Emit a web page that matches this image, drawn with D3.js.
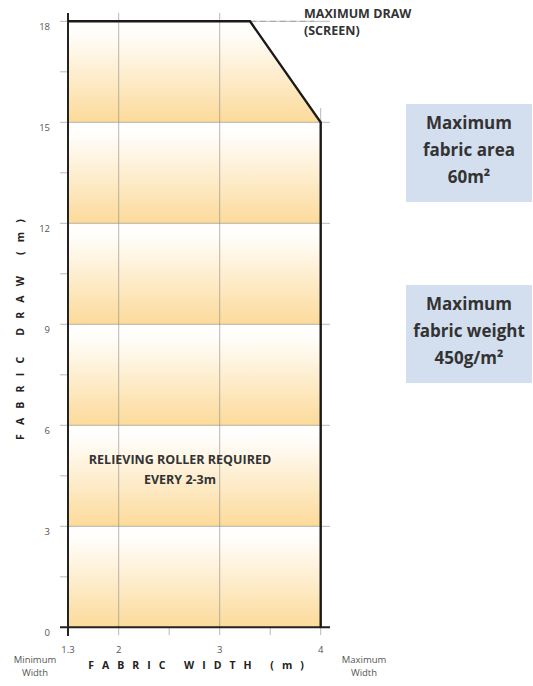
<!DOCTYPE html>
<html>
<head>
<meta charset="utf-8">
<script src="https://cdn.jsdelivr.net/npm/d3@7"></script>
<style>
  body { margin: 0; background: #fff; }
  text { font-family: "Open Sans", "DejaVu Sans", sans-serif; }
</style>
</head>
<body>
<script>
// limits of the fabric envelope (width m, draw m)
const envelope = [
  [1.3, 0], [1.3, 18], [3.3, 18], [4, 15], [4, 0]
];
const yTicks = [0, 3, 6, 9, 12, 15, 18];
const yMinor = [1.5, 4.5, 7.5, 10.5, 13.5, 16.5];
const xTicks = [1.3, 2, 3, 4];
const xMinor = [2.5, 3.5];
const xGrid = [2, 3];
const bands = [[0, 3], [3, 6], [6, 9], [9, 12], [12, 15], [15, 18]];
const boxes = [
  ["Maximum", "fabric area", "60m²"],
  ["Maximum", "fabric weight", "450g/m²"]
];

const W = 533, H = 686;
const svg = d3.select("body").append("svg").attr("width", W).attr("height", H);

// the first step (1.3 -> 2) is drawn shorter than the rest
const x = d3.scaleLinear().domain([1.3, 2, 4]).range([68, 118.7, 320.7]);
const y = d3.scaleLinear().domain([0, 18]).range([627.3, 21.3]);

const defs = svg.append("defs");
const grad = defs.append("linearGradient")
  .attr("id", "band").attr("x1", 0).attr("y1", 0).attr("x2", 0).attr("y2", 1);
grad.append("stop").attr("offset", "0%").attr("stop-color", "#ffffff");
grad.append("stop").attr("offset", "14%").attr("stop-color", "#fffdf9");
grad.append("stop").attr("offset", "100%").attr("stop-color", "#fcda9a");

defs.append("clipPath").attr("id", "env")
  .append("polygon")
  .attr("points", envelope.map(d => [x(d[0]), y(d[1])].join(",")).join(" "));

// gradient bands inside the envelope
svg.append("g").attr("clip-path", "url(#env)")
  .selectAll("rect").data(bands).join("rect")
  .attr("x", x(1.3)).attr("width", x(4) - x(1.3))
  .attr("y", d => y(d[1])).attr("height", d => y(d[0]) - y(d[1]))
  .attr("fill", "url(#band)");

// grid
const grid = svg.append("g").attr("stroke", "#8a8a8a").attr("stroke-width", 0.6);
grid.selectAll(".hg").data(yTicks.slice(1)).join("line")
  .attr("x1", 60).attr("x2", 330)
  .attr("y1", d => y(d)).attr("y2", d => y(d));
grid.selectAll(".vg").data(xGrid).join("line")
  .attr("x1", d => x(d)).attr("x2", d => x(d))
  .attr("y1", 13).attr("y2", 635);
grid.append("line")
  .attr("x1", x(4)).attr("x2", x(4)).attr("y1", 108).attr("y2", y(15));
grid.selectAll(".ym").data(yMinor).join("line")
  .attr("x1", 60).attr("x2", 68)
  .attr("y1", d => y(d)).attr("y2", d => y(d));
grid.selectAll(".xm").data(xMinor.concat([4])).join("line")
  .attr("x1", d => x(d)).attr("x2", d => x(d))
  .attr("y1", y(0)).attr("y2", 635);

// dashed max draw line
svg.append("line")
  .attr("x1", x(3.3)).attr("x2", 314)
  .attr("y1", y(18)).attr("y2", y(18))
  .attr("stroke", "#999").attr("stroke-width", 0.8)
  .attr("stroke-dasharray", "6,4");

// axes
svg.append("line").attr("x1", x(1.3)).attr("x2", x(1.3)).attr("y1", 13).attr("y2", 636)
  .attr("stroke", "#222").attr("stroke-width", 2);
svg.append("line").attr("x1", 60).attr("x2", 330).attr("y1", y(0)).attr("y2", y(0))
  .attr("stroke", "#222").attr("stroke-width", 2);

// envelope outline
svg.append("path")
  .attr("d", d3.line().x(d => x(d[0])).y(d => y(d[1]))(envelope.slice(1)))
  .attr("fill", "none").attr("stroke", "#1a1a1a").attr("stroke-width", 2.4)
  .attr("stroke-linejoin", "miter");

// tick labels
svg.selectAll(".yl").data(yTicks).join("text")
  .attr("x", 50).attr("y", d => y(d) + 9)
  .attr("text-anchor", "end").attr("font-size", 9.5).attr("fill", "#555")
  .text(d => d);
svg.selectAll(".xl").data(xTicks).join("text")
  .attr("x", d => x(d)).attr("y", 653)
  .attr("text-anchor", "middle").attr("font-size", 9.5).attr("fill", "#555")
  .text(d => d);

// axis titles
svg.append("text")
  .attr("transform", "translate(24,325) rotate(-90)")
  .attr("text-anchor", "middle").attr("font-size", 10.5).attr("font-weight", "bold")
  .attr("fill", "#222").attr("letter-spacing", "9.2px")
  .text("FABRIC DRAW (m)");
svg.append("text")
  .attr("x", 200).attr("y", 669)
  .attr("text-anchor", "middle").attr("font-size", 10.5).attr("font-weight", "bold")
  .attr("fill", "#222").attr("letter-spacing", "8px")
  .text("FABRIC WIDTH (m)");

[["Minimum", "Width", 35], ["Maximum", "Width", 364]].forEach(([a, b, cx]) => {
  const t = svg.append("text").attr("text-anchor", "middle")
    .attr("font-size", 9.5).attr("fill", "#555");
  t.append("tspan").attr("x", cx).attr("y", 663).text(a);
  t.append("tspan").attr("x", cx).attr("y", 676).text(b);
});

// annotations
const note = (lines, cx, y0, dy, anchor) => {
  const t = svg.append("text").attr("text-anchor", anchor || "middle")
    .attr("font-size", 12.5).attr("font-weight", "bold").attr("fill", "#333");
  lines.forEach((s, i) => t.append("tspan").attr("x", cx).attr("y", y0 + i * dy).text(s));
};
note(["MAXIMUM DRAW", "(SCREEN)"], 304, 18, 17, "start");
note(["RELIEVING ROLLER REQUIRED"], 180, 464, 0);
note(["EVERY 2-3m"], 180, 484, 0);

// info boxes
const boxTop = [104, 285];
boxes.forEach((lines, i) => {
  svg.append("rect")
    .attr("x", 406).attr("y", boxTop[i]).attr("width", 126).attr("height", 98)
    .attr("fill", "#d3dfef");
  const t = svg.append("text").attr("text-anchor", "middle")
    .attr("font-size", 17).attr("font-weight", "bold").attr("fill", "#333");
  lines.forEach((s, j) => t.append("tspan")
    .attr("x", 469).attr("y", boxTop[i] + 25 + j * 27).text(s));
});
</script>
</body>
</html>
